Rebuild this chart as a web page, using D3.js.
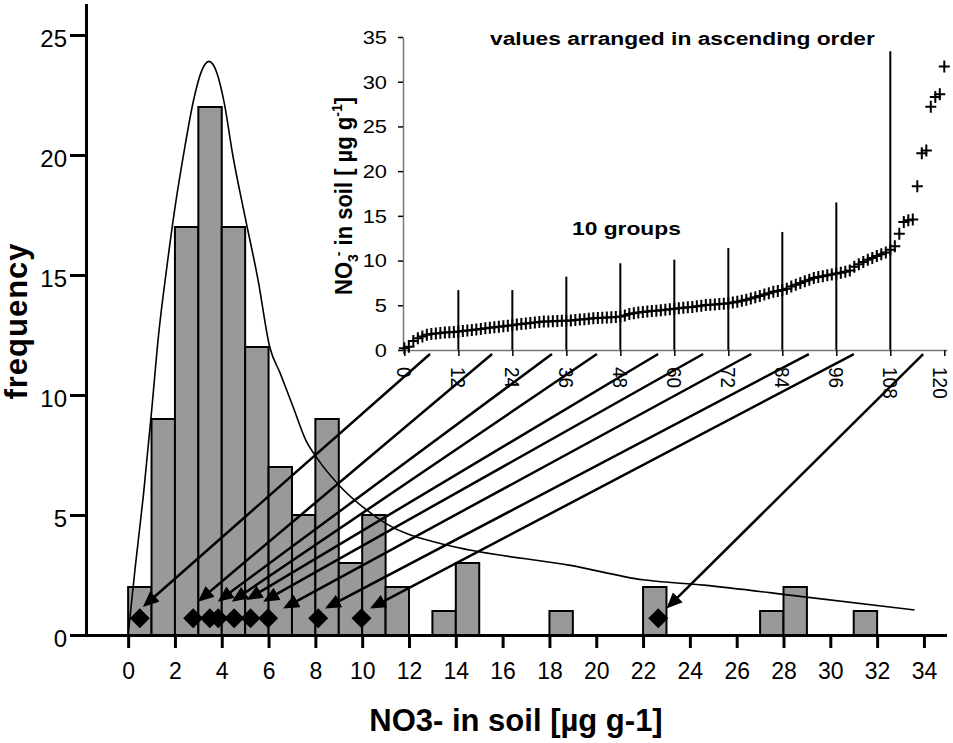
<!DOCTYPE html>
<html>
<head>
<meta charset="UTF-8">
<title>NO3- in soil, frequency</title>
<script src="https://d3js.org/d3.v7.min.js"></script>
<style>
    body { margin: 0; background: #fff; }
    svg { font-family: "Liberation Sans", Arial, sans-serif; }
    .axis text { font-size: 24px; fill: #000; }
    .axis path, .axis line { stroke: #000; stroke-width: 3px; }
    .inset-axis path { stroke: #777; stroke-width: 1.5px; }
    .inset-axis line { stroke: #000; stroke-width: 1.5px; }
    .bars rect { fill: #999; stroke: #000; stroke-width: 2px; }
    .fit { fill: none; stroke: #000; stroke-width: 1.6px; }
    .arrows line { stroke: #000; stroke-width: 2.5px; }
    .groups line { stroke: #000; stroke-width: 2px; }
    .crosses path { fill: none; stroke: #000; stroke-width: 2px; }
</style>
</head>
<body>
<svg width="953" height="743"></svg>
<script>
    // histogram (bins of width 1)
    var binStart = [0, 1, 2, 3, 4, 5, 6, 7, 8, 9, 10, 11, 13, 14, 18, 22, 27, 28, 31];
    var binCount = [2, 9, 17, 22, 17, 12, 7, 5, 9, 3, 5, 2, 1, 3, 1, 2, 1, 2, 1];

    // fitted curve
    var curveX = [0, 0.3, 0.65, 1.0, 1.3, 1.65, 2.0, 2.4, 2.8, 3.1, 3.45, 3.8, 4.1, 4.47, 5.0, 5.55,
                  6.05, 6.5, 7.05, 7.6, 8.05, 9.05, 10.2, 11.0, 13.3, 14.6, 18.9, 22.0, 24.6, 28.8, 33.6];
    var curveY = [0, 2.8, 5.8, 9.3, 12.5, 15.3, 17.8, 20.2, 22.3, 23.4, 23.9, 23.4, 22.2, 20.0, 17.4, 14.8,
                  12.0, 10.9, 9.5, 8.1, 7.4, 6.2, 5.2, 4.65, 3.82, 3.54, 2.9, 2.3, 2.08, 1.6, 1.04];

    // group values (diamonds)
    var groupX = [0.5, 2.78, 3.49, 3.85, 4.53, 5.23, 5.98, 8.12, 9.97, 22.65];
    var groupY = [0.7, 0.7, 0.7, 0.7, 0.7, 0.7, 0.7, 0.7, 0.7, 0.7];

    // inset: all values in ascending order
    var sortedValues = [
        0.2, 0.35, 1.0, 1.3, 1.5, 1.7, 1.8, 1.85, 1.9, 1.95, 1.98,
        2.02, 2.06, 2.12, 2.18, 2.24, 2.3, 2.36, 2.42, 2.48, 2.54, 2.6, 2.66, 2.72, 2.78, 2.84, 2.9, 2.96,
        3.02, 3.08, 3.14, 3.18, 3.2, 3.22, 3.24, 3.26, 3.28, 3.31, 3.35, 3.4, 3.45, 3.5, 3.54, 3.57, 3.6,
        3.63, 3.66, 3.7, 3.75, 3.85,
        4.02, 4.1, 4.18, 4.24, 4.3, 4.35, 4.4, 4.45, 4.5, 4.56, 4.62, 4.67, 4.72, 4.77, 4.82, 4.88, 4.95,
        5.02, 5.06, 5.1, 5.14, 5.18, 5.22, 5.3, 5.4, 5.5, 5.62, 5.75, 5.9,
        6.05, 6.2, 6.35, 6.5, 6.6, 6.7, 6.85,
        7.1, 7.3, 7.5, 7.7, 7.85,
        8.05, 8.15, 8.25, 8.35, 8.45, 8.55, 8.65, 8.75, 8.9,
        9.3, 9.6, 9.85,
        10.1, 10.3, 10.5, 10.7, 10.9,
        11.2, 11.6,
        13.0, 14.3, 14.5, 14.6, 18.3, 22.0, 22.3, 27.2, 28.3, 28.6, 31.7
    ];

    // group borders in the inset
    var groupBorderIdx = [12, 24, 36, 48, 60, 72, 84, 96, 108];
    var groupBorderTop = [6.7, 6.7, 8.2, 9.7, 10.1, 11.4, 13.2, 16.5, 33.4];

    // arrows: from inset (index, value) to main chart (NO3, frequency)
    var arrowFromIdx = [5.7, 19.5, 32.8, 42.8, 56.4, 66.4, 77.1, 89.9, 99.9, 115.3];
    var arrowFromVal = [-0.45, -0.45, -0.45, -0.45, -0.45, -0.45, -0.45, -0.45, -0.45, -0.45];
    var arrowToX = [0.63, 2.98, 3.83, 4.43, 5.06, 5.77, 6.62, 8.41, 10.33, 23.0];
    var arrowToY = [1.17, 1.39, 1.39, 1.39, 1.46, 1.39, 1.1, 1.1, 1.1, 1.1];

    var xTicks = [0, 2, 4, 6, 8, 10, 12, 14, 16, 18, 20, 22, 24, 26, 28, 30, 32, 34];
    var yTicks = [0, 5, 10, 15, 20, 25];
    var insetXTicks = [0, 12, 24, 36, 48, 60, 72, 84, 96, 108, 120];
    var insetYTicks = [0, 5, 10, 15, 20, 25, 30, 35];

    var svg = d3.select('svg');

    var x = d3.scaleLinear().domain([-1.8, 34.9]).range([86, 945]),
        y = d3.scaleLinear().domain([0, 26.25]).range([635, 5]);

    var ix = d3.scaleLinear().domain([-0.3, 120.6]).range([403, 947]),
        iy = d3.scaleLinear().domain([0, 35]).range([350, 37]);

    svg.append('defs').append('marker')
        .attr('id', 'head')
        .attr('markerUnits', 'userSpaceOnUse')
        .attr('viewBox', '0 -7 16 14')
        .attr('refX', 13).attr('refY', 0)
        .attr('markerWidth', 16).attr('markerHeight', 14)
        .attr('orient', 'auto')
      .append('path')
        .attr('d', 'M0,-7L16,0L0,7Z')
        .attr('fill', '#000');

    // bars
    svg.append('g').attr('class', 'bars')
      .selectAll('rect')
        .data(binStart)
        .enter().append('rect')
        .attr('x', d => x(d))
        .attr('width', d => x(d + 1) - x(d))
        .attr('y', (d, i) => y(binCount[i]))
        .attr('height', (d, i) => y(0) - y(binCount[i]));

    // fitted curve
    var fitLine = d3.line()
        .x(d => x(d[0]))
        .y(d => y(d[1]))
        .curve(d3.curveMonotoneX);
    svg.append('path').attr('class', 'fit')
        .attr('d', fitLine(d3.zip(curveX, curveY)));

    // diamonds
    svg.append('g')
      .selectAll('path')
        .data(groupX)
        .enter().append('path')
        .attr('transform', (d, i) => 'translate(' + x(d) + ',' + y(groupY[i]) + ') rotate(45)')
        .attr('d', d3.symbol().type(d3.symbolSquare).size(200));

    // main axes
    var gx = svg.append('g').attr('class', 'axis')
        .attr('transform', 'translate(0,' + y(0) + ')')
        .call(d3.axisBottom(x).tickValues(xTicks).tickSize(13).tickSizeOuter(0).tickPadding(15));
    gx.selectAll('text').style('font-size', '23px');

    svg.append('g').attr('class', 'axis')
        .attr('transform', 'translate(' + x.range()[0] + ',0)')
        .call(d3.axisLeft(y).tickValues(yTicks).tickSize(16).tickSizeOuter(0).tickPadding(3))
      .selectAll('text').attr('dy', '0.48em');

    svg.selectAll('.axis path').attr('stroke-linecap', 'square');

    svg.append('text')
        .attr('x', 516).attr('y', 731)
        .attr('text-anchor', 'middle')
        .style('font-size', '31px').style('font-weight', 'bold')
        .text('NO3- in soil [µg g-1]');

    svg.append('text')
        .attr('transform', 'translate(27,321) rotate(-90)')
        .attr('text-anchor', 'middle')
        .style('font-size', '31px').style('font-weight', 'bold')
        .style('letter-spacing', '1px')
        .text('frequency');

    // ---- inset ----
    var inset = svg.append('g').attr('class', 'inset');

    inset.append('g').attr('class', 'groups')
      .selectAll('line')
        .data(groupBorderIdx)
        .enter().append('line')
        .attr('x1', d => ix(d)).attr('x2', d => ix(d))
        .attr('y1', iy(0))
        .attr('y2', (d, i) => iy(groupBorderTop[i]));

    inset.append('g').attr('class', 'inset-axis')
        .attr('transform', 'translate(0,' + iy(0) + ')')
        .call(d3.axisBottom(ix).tickValues(insetXTicks).tickSize(6).tickSizeOuter(0).tickFormat(''));

    inset.append('g').attr('class', 'inset-axis')
        .attr('transform', 'translate(' + ix.range()[0] + ',0)')
        .call(d3.axisLeft(iy).tickValues(insetYTicks).tickSize(5).tickSizeOuter(0).tickFormat(''));

    // rotated index labels; keep the last one inside the page
    inset.append('g')
      .selectAll('text')
        .data(insetXTicks)
        .enter().append('text')
        .attr('transform', d => 'translate(' + Math.min(ix(d), 941) + ',367) scale(1.1,1) rotate(90)')
        .attr('dy', '0.36em')
        .style('font-size', '19px')
        .text(d => d);

    inset.append('g')
      .selectAll('text')
        .data(insetYTicks)
        .enter().append('text')
        .attr('transform', d => 'translate(387,' + iy(d) + ') scale(1.15,1)')
        .attr('dy', '0.36em')
        .attr('text-anchor', 'end')
        .style('font-size', '19px')
        .text(d => d);

    inset.append('g').attr('class', 'crosses')
      .selectAll('path')
        .data(sortedValues)
        .enter().append('path')
        .attr('transform', (d, i) => 'translate(' + ix(i) + ',' + iy(d) + ')')
        .attr('d', 'M-5.5,0H5.5M0,-6V6');

    inset.append('text')
        .attr('transform', 'translate(490,45) scale(1.2,1)')
        .style('font-size', '19px').style('font-weight', 'bold')
        .text('values arranged in ascending order');

    inset.append('text')
        .attr('transform', 'translate(572,235) scale(1.2,1)')
        .style('font-size', '19px').style('font-weight', 'bold')
        .text('10 groups');

    var ylab = inset.append('text')
        .attr('transform', 'translate(352,196) scale(1.1,1) rotate(-90)')
        .attr('text-anchor', 'middle')
        .style('font-size', '22px').style('font-weight', 'bold');
    ylab.append('tspan').text('NO');
    ylab.append('tspan').attr('dy', 5).style('font-size', '14px').text('3');
    ylab.append('tspan').attr('dy', -13).attr('dx', -2).style('font-size', '14px').text('-');
    ylab.append('tspan').attr('dy', 8).text(' in soil [ µg g');
    ylab.append('tspan').attr('dy', -9).style('font-size', '14px').text('-1');
    ylab.append('tspan').attr('dy', 9).text(']');

    // arrows
    svg.append('g').attr('class', 'arrows')
      .selectAll('line')
        .data(arrowFromIdx)
        .enter().append('line')
        .each(function (d, i) {
            var x1 = ix(d), y1 = iy(arrowFromVal[i]),
                x2 = x(arrowToX[i]), y2 = y(arrowToY[i]),
                len = Math.hypot(x2 - x1, y2 - y1),
                k = (len - 3) / len;
            d3.select(this)
                .attr('x1', x1).attr('y1', y1)
                .attr('x2', x1 + (x2 - x1) * k)
                .attr('y2', y1 + (y2 - y1) * k)
                .attr('marker-end', 'url(#head)');
        });
</script>
</body>
</html>
